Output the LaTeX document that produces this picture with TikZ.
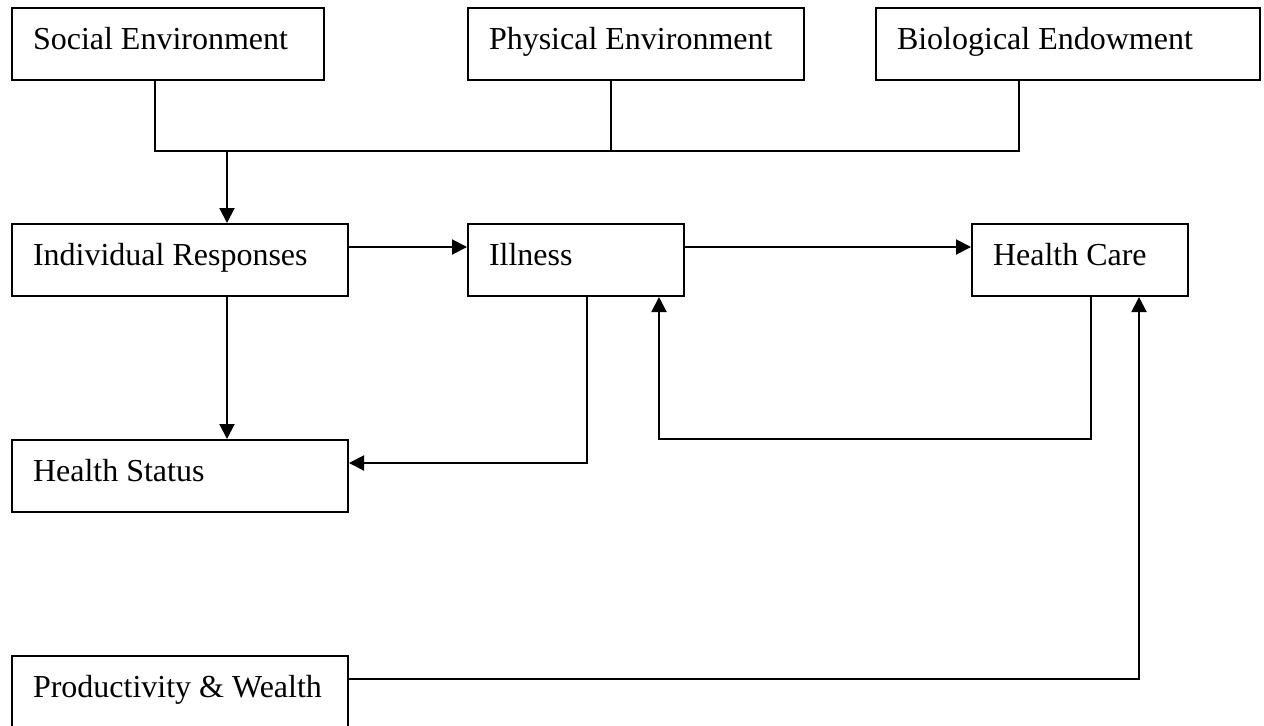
\documentclass[tikz,border=0pt]{standalone}
\usepackage{fontspec}
\setmainfont{Liberation Serif}
\usetikzlibrary{arrows.meta}
\newcommand{\bxtxt}[2]{\makebox[#1][l]{\hspace*{10.5pt}#2}}
\begin{document}
\begin{tikzpicture}[x=0.5pt,y=-0.5pt,
  box/.style={draw, line width=1pt, anchor=north west, inner sep=0pt,
    text height=20.5pt, text depth=15.5pt,
    font=\fontsize{16pt}{19pt}\selectfont},
  ln/.style={line width=1pt},
  arr/.style={line width=1pt, -{Triangle[length=7.5pt,width=7.5pt]}}]
\useasboundingbox (0,0) rectangle (1264,725);
\fill[white] (0,0) rectangle (1264,725);
% boxes
\node[box] (soc) at (11,7)   {\bxtxt{156pt}{Social Environment}};
\node[box] (phy) at (467,7)  {\bxtxt{168pt}{Physical Environment}};
\node[box] (bio) at (875,7)  {\bxtxt{192pt}{Biological Endowment}};
\node[box] (ir)  at (11,223) {\bxtxt{168pt}{Individual Responses}};
\node[box] (ill) at (467,223){\bxtxt{108pt}{Illness}};
\node[box] (hc)  at (971,223){\bxtxt{108pt}{Health Care}};
\node[box] (hs)  at (11,439) {\bxtxt{168pt}{Health Status}};
\node[box] (pw)  at (11,655) {\bxtxt{168pt}{Productivity \& Wealth}};
% junction coordinates
\coordinate (j1) at (155,151);
\coordinate (j2) at (611,151);
\coordinate (j3) at (1019,151);
\coordinate (jm) at (227,151);
\coordinate (r1) at (0,247);
\coordinate (c1) at (587,463);
\coordinate (c2) at (1091,439);
\coordinate (c3) at (659,439);
\coordinate (c4) at (1139,679);
\coordinate (c5) at (0,679);
% connectors
\draw[ln] (soc.south -| j1) -- (j1) -- (j3) -- (bio.south -| j3);
\draw[ln] (phy.south -| j2) -- (j2);
\draw[arr] (jm) -- (ir.north -| jm);
\draw[arr] (ir.east |- r1) -- (ill.west |- r1);
\draw[arr] (ill.east |- r1) -- (hc.west |- r1);
\draw[arr] (ir.south -| jm) -- (hs.north -| jm);
\draw[arr] (ill.south -| c1) -- (c1) -- (hs.east |- c1);
\draw[arr] (hc.south -| c2) -- (c2) -- (c3) -- (ill.south -| c3);
\draw[arr] (pw.east |- c5) -- (c4) -- (hc.south -| c4);
\end{tikzpicture}
\end{document}
